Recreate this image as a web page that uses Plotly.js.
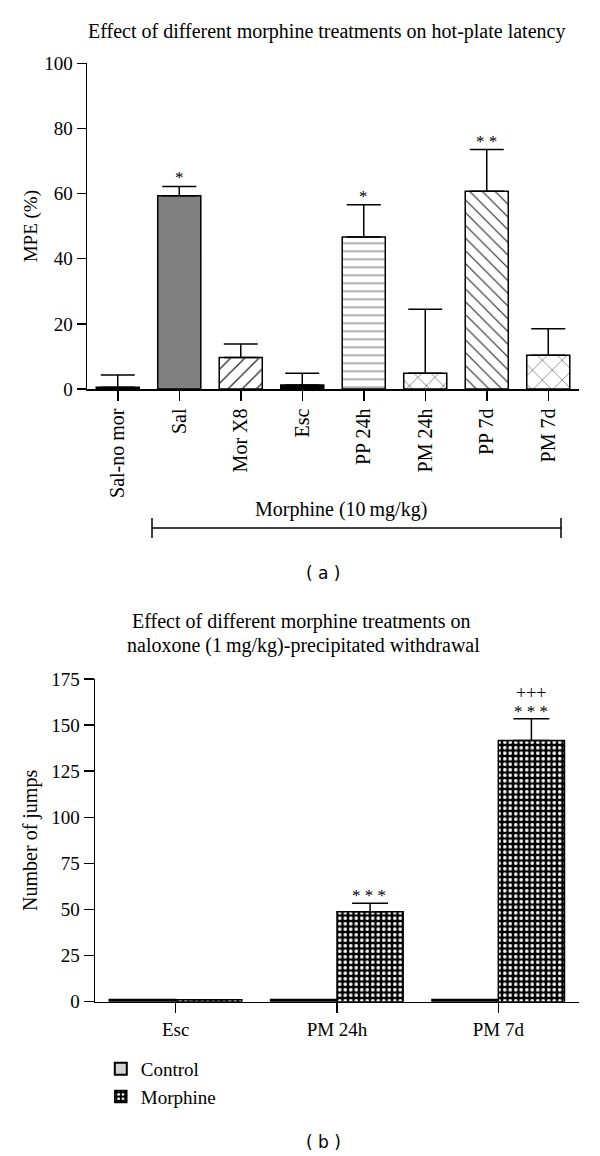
<!DOCTYPE html>
<html><head><meta charset="utf-8">
<script src="https://cdn.plot.ly/plotly-3.0.1.min.js"></script>
<style>html,body{margin:0;padding:0;background:#fff}#chart{width:600px;height:1156px}</style>
</head><body><div id="chart"></div>
<script>
// ---- Panel (a) data ----
const categoriesA = ['Sal-no mor', 'Sal', 'Mor X8', 'Esc', 'PP 24h', 'PM 24h', 'PP 7d', 'PM 7d'];
const mpeMean = [0.5, 59.3, 9.7, 1.2, 46.7, 4.8, 60.7, 10.4];
const mpeSem = [3.8, 2.9, 4.1, 3.6, 9.9, 19.7, 12.8, 8.1];
const mpeSig = ['', '*', '', '', '*', '', '* *', ''];
const yTicksA = [0, 20, 40, 60, 80, 100];

// ---- Panel (b) data ----
const groupsB = ['Esc', 'PM 24h', 'PM 7d'];
const controlJumps = [1, 1, 1];
const morphineJumps = [1, 48.8, 141.6];
const morphineSem = [0, 4.6, 11.8];
const morphineSigStar = ['', '* * *', '* * *'];
const morphineSigPlus = ['', '', '+++'];
const yTicksB = [0, 25, 50, 75, 100, 125, 150, 175];

// ---- styles ----
const SERIF = 'Liberation Serif, Times New Roman, serif';
const SANS = 'DejaVu Sans, sans-serif';
const barColorsA = ['#000000', '#808080', '#ffffff', '#000000', '#ffffff', '#ffffff', '#ffffff', '#ffffff'];
const patShapesA = ['', '', '/', '', '-', 'x', '\\', 'x'];
const patSizesA = [8, 8, 10, 8, 8, 12, 9, 14];
const patSolidA = [0.1, 0.1, 0.12, 0.1, 0.14, 0.1, 0.12, 0.08];
const patFgA = ['#000', '#000', '#222', '#000', '#777', '#444', '#222', '#444'];

const traces = [];
categoriesA.forEach((c, i) => {
  const marker = {color: barColorsA[i], line: {color: '#000', width: 1.5}};
  if (patShapesA[i]) {
    marker.pattern = {shape: patShapesA[i], size: patSizesA[i], solidity: patSolidA[i],
      fgcolor: patFgA[i], bgcolor: '#ffffff', fillmode: 'replace'};
  }
  traces.push({
    type: 'bar', x: [c], y: [mpeMean[i]], xaxis: 'x', yaxis: 'y', width: 0.7, offset: -0.35,
    showlegend: false, hoverinfo: 'skip', marker: marker,
    error_y: {type: 'data', symmetric: false, array: [mpeSem[i]], arrayminus: [0],
      color: '#000', thickness: 1.5, width: 17}
  });
});
traces.push({
  type: 'bar', name: 'Control', x: groupsB, y: controlJumps, xaxis: 'x2', yaxis: 'y2',
  hoverinfo: 'skip',
  marker: {color: '#d3d3d3', line: {color: '#000', width: 2}}
});
traces.push({
  type: 'bar', name: 'Morphine', x: groupsB, y: morphineJumps, xaxis: 'x2', yaxis: 'y2',
  hoverinfo: 'skip',
  marker: {color: '#000', line: {color: '#000', width: 1.5},
    pattern: {shape: '.', size: 5.5, solidity: 0.33, fgcolor: '#ffffff', bgcolor: '#000000', fillmode: 'replace'}},
  error_y: {type: 'data', symmetric: false, array: morphineSem, arrayminus: morphineSem.map(() => 0),
    color: '#000', thickness: 1.5, width: 18}
});

const annotations = [];
// titles
annotations.push({xref: 'paper', yref: 'paper', x: 326 / 600, y: 1 - 31 / 1156, xanchor: 'center', yanchor: 'middle',
  text: 'Effect of different morphine treatments on hot-plate latency', showarrow: false,
  font: {family: SERIF, size: 20, color: '#000'}});
annotations.push({xref: 'paper', yref: 'paper', x: 301 / 600, y: 1 - 621 / 1156, xanchor: 'center', yanchor: 'middle',
  text: 'Effect of different morphine treatments on', showarrow: false,
  font: {family: SERIF, size: 20, color: '#000'}});
annotations.push({xref: 'paper', yref: 'paper', x: 303 / 600, y: 1 - 645 / 1156, xanchor: 'center', yanchor: 'middle',
  text: 'naloxone (1\u2009mg/kg)-precipitated withdrawal', showarrow: false,
  font: {family: SERIF, size: 20, color: '#000'}});
// morphine bracket label
annotations.push({xref: 'paper', yref: 'paper', x: 341 / 600, y: 1 - 509 / 1156, xanchor: 'center', yanchor: 'middle',
  text: 'Morphine (10\u2009mg/kg)', showarrow: false, font: {family: SERIF, size: 20, color: '#000'}});
// panel labels
annotations.push({xref: 'paper', yref: 'paper', x: 323 / 600, y: 1 - 573 / 1156, xanchor: 'center', yanchor: 'middle',
  text: '( a )', showarrow: false, font: {family: SANS, size: 17, color: '#000'}});
annotations.push({xref: 'paper', yref: 'paper', x: 323 / 600, y: 1 - 1142 / 1156, xanchor: 'center', yanchor: 'middle',
  text: '( b )', showarrow: false, font: {family: SANS, size: 17, color: '#000'}});
// significance marks (a)
categoriesA.forEach((c, i) => {
  if (mpeSig[i]) annotations.push({xref: 'x', yref: 'y', x: c, y: mpeMean[i] + mpeSem[i], yanchor: 'bottom',
    text: mpeSig[i], showarrow: false, yshift: -3, font: {family: SERIF, size: 17, color: '#000'}});
});
// significance marks (b) -- morphine bars are the right bar of each group
groupsB.forEach((g, i) => {
  if (morphineSigStar[i]) annotations.push({xref: 'x2', yref: 'y2', x: i + 0.2, y: morphineJumps[i] + morphineSem[i],
    yanchor: 'bottom', text: morphineSigStar[i], showarrow: false, yshift: -4, font: {family: SERIF, size: 17, color: '#000'}});
  if (morphineSigPlus[i]) annotations.push({xref: 'x2', yref: 'y2', x: i + 0.2, y: morphineJumps[i] + morphineSem[i],
    yanchor: 'bottom', text: morphineSigPlus[i], showarrow: false, yshift: 14, font: {family: SERIF, size: 18, color: '#000'}});
});

const shapes = [
  {type: 'line', xref: 'paper', yref: 'paper', x0: 152 / 600, x1: 561 / 600, y0: 1 - 528 / 1156, y1: 1 - 528 / 1156, line: {color: '#000', width: 1.5}},
  {type: 'line', xref: 'paper', yref: 'paper', x0: 152 / 600, x1: 152 / 600, y0: 1 - 518 / 1156, y1: 1 - 538 / 1156, line: {color: '#000', width: 1.5}},
  {type: 'line', xref: 'paper', yref: 'paper', x0: 561 / 600, x1: 561 / 600, y0: 1 - 518 / 1156, y1: 1 - 538 / 1156, line: {color: '#000', width: 1.5}}
];

const axisCommon = {showline: true, linecolor: '#000', linewidth: 1.5, ticks: 'outside', tickcolor: '#000',
  tickwidth: 1.5, showgrid: false, zeroline: false, fixedrange: true};

const layout = {
  width: 600, height: 1156, autosize: false,
  margin: {l: 0, r: 0, t: 0, b: 0},
  paper_bgcolor: '#fff', plot_bgcolor: '#fff',
  barmode: 'group', bargap: 0.18, bargroupgap: 0,
  font: {family: SERIF, color: '#000', size: 19},
  xaxis: Object.assign({}, axisCommon, {domain: [87 / 600, 579 / 600], anchor: 'y', type: 'category',
    categoryorder: 'array', categoryarray: categoriesA,
    range: [-0.5, 7.5], ticklen: 10, tickangle: -90, tickfont: {family: SERIF, size: 20, color: '#000'}}),
  yaxis: Object.assign({}, axisCommon, {domain: [1 - 389 / 1156, 1 - 63.3 / 1156], anchor: 'x',
    range: [0, 100], tickvals: yTicksA, ticklen: 9, tickfont: {family: SERIF, size: 19, color: '#000'},
    title: {text: 'MPE (%)', font: {family: SERIF, size: 19, color: '#000'}, standoff: 1}}),
  xaxis2: Object.assign({}, axisCommon, {domain: [95 / 600, 579 / 600], anchor: 'y2', type: 'category',
    range: [-0.5, 2.5], ticklen: 10, tickfont: {family: SERIF, size: 19, color: '#000'}}),
  yaxis2: Object.assign({}, axisCommon, {domain: [1 - 1001.7 / 1156, 1 - 679 / 1156], anchor: 'x2',
    range: [0, 175], tickvals: yTicksB, ticklen: 10, tickfont: {family: SERIF, size: 19, color: '#000'},
    title: {text: 'Number of jumps', font: {family: SERIF, size: 20, color: '#000'}, standoff: 8}}),
  legend: {x: 0.168, y: 1 - 1050 / 1156, xanchor: 'left', yanchor: 'top', bgcolor: 'rgba(0,0,0,0)',
    font: {family: SERIF, size: 19, color: '#000'}, traceorder: 'normal', tracegroupgap: 0},
  annotations: annotations,
  shapes: shapes
};

Plotly.newPlot('chart', traces, layout, {staticPlot: true, displayModeBar: false});
</script>
</body></html>
